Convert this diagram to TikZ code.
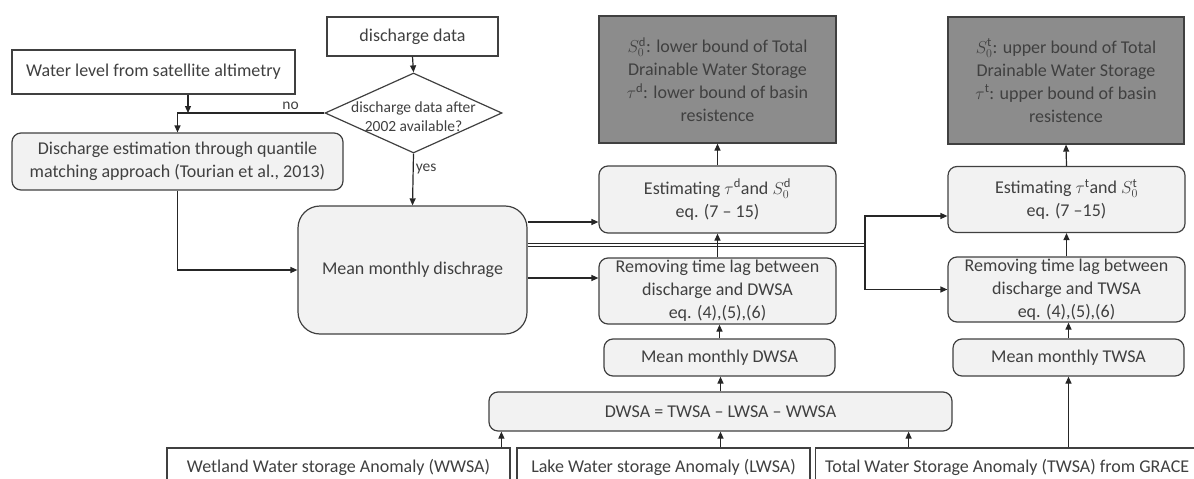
\documentclass[tikz,border=0pt]{standalone}
\usepackage{amsmath}
\usepackage{fontspec}
\setmainfont{Carlito}
\usetikzlibrary{shapes.geometric,arrows.meta}
\definecolor{boxfill}{HTML}{F2F2F2}
\definecolor{darkfill}{HTML}{8C8C8C}
\definecolor{edge}{HTML}{404040}
\begin{document}
\begin{tikzpicture}[x=1pt,y=-1pt,
    every node/.style={font=\fontsize{18}{23}\selectfont, inner sep=0pt, text=edge},
    plain/.style={draw=edge, line width=1.2pt, fill=white},
    rbox/.style={draw=edge, line width=1.2pt, fill=boxfill, rounded corners=9pt, align=center},
    dbox/.style={draw=edge, line width=1.2pt, fill=darkfill, align=center},
    lbl/.style={font=\fontsize{15.5}{19}\selectfont},
    arr/.style={line width=1.2pt, black!85, -{Triangle[length=7pt,width=6pt]}},
    ln/.style={line width=1.2pt, black!85},
    dbl/.style={line width=1pt, black!85, double, double distance=2pt}]
        \useasboundingbox (0,0) rectangle (1194,479);
        \clip (0,0) rectangle (1194,479);
        % inputs on the left
        \node (wl) [plain, minimum width=283pt, minimum height=44pt] at (153.5,72) {Water level from satellite altimetry};
        \node (dd) [plain, minimum width=171pt, minimum height=39pt] at (412.5,36.5) {discharge data};
        \node (dq) [plain, diamond, minimum width=177pt, minimum height=80pt] at (413.5,113) {};
        \node [lbl, align=center] at (413.5,117) {discharge data after\\2002 available?};
        \node (qm) [rbox, minimum width=331pt, minimum height=57pt] at (177.5,161.5) {Discharge estimation through quantile\\matching approach (Tourian et al., 2013)};
        \node (mq) [rbox, rounded corners=22pt, minimum width=229pt, minimum height=128pt] at (412.5,270) {Mean monthly dischrage};
        % d branch
        \node (gd) [dbox, minimum width=237pt, minimum height=127pt] at (717.5,79.5) {$S_0^{\text{d}}$: lower bound of Total\\Drainable Water Storage\\$\tau^{\text{d}}$: lower bound of basin\\resistence};
        \node (ed) [rbox, minimum width=237pt, minimum height=67pt] at (717.5,199.5) {Estimating $\tau^{\text{d}}$and $S_0^{\text{d}}$\\eq. (7 -- 15)};
        \node (rd) [rbox, minimum width=237pt, minimum height=66pt] at (717.5,291) {Removing time lag between\\discharge and DWSA\\eq. (4),(5),(6)};
        \node (md) [rbox, minimum width=231pt, minimum height=37pt] at (719.5,357.5) {Mean monthly DWSA};
        \node (dw) [rbox, minimum width=463pt, minimum height=39pt] at (720.5,411.5) {DWSA = TWSA -- LWSA -- WWSA};
        % t branch
        \node (gt) [dbox, minimum width=236pt, minimum height=127pt] at (1066,80.5) {$S_0^{\text{t}}$: upper bound of Total\\Drainable Water Storage\\$\tau^{\text{t}}$: upper bound of basin\\resistence};
        \node (et) [rbox, minimum width=237pt, minimum height=66pt] at (1066.5,199.5) {Estimating $\tau^{\text{t}}$and $S_0^{\text{t}}$\\eq. (7 --15)};
        \node (rt) [rbox, minimum width=237pt, minimum height=65pt] at (1066.5,289.5) {Removing time lag between\\discharge and TWSA\\eq. (4),(5),(6)};
        \node (mt) [rbox, minimum width=231pt, minimum height=37pt] at (1068.5,357.5) {Mean monthly TWSA};
        % storage anomalies at the bottom
        \node (ww) [plain, minimum width=343pt, minimum height=38pt] at (338.5,467) {Wetland Water storage Anomaly (WWSA)};
        \node (lk) [plain, minimum width=293pt, minimum height=38pt] at (663.5,467) {Lake Water storage Anomaly (LWSA)};
        \node (tw) [plain, anchor=west, minimum width=445pt, minimum height=38pt] at (815,467) {};
        \node [anchor=west] at ([xshift=10pt]tw.west) {Total Water Storage Anomaly (TWSA) from GRACE};
        \coordinate (sp) at (865,245);
        % connectors
        \draw [arr] (dd.south) -- (dq.north);
        \draw [arr] ([xshift=34.5pt]wl.south) -- ([xshift=34.5pt]wl.south |- dq.west);
        \draw [arr] (dq.west) -| node [lbl, pos=0.115, above=3pt] {no} (qm.north);
        \draw [arr] (dq.south) -- node [lbl, pos=0.3, right=2pt] {yes} (mq.north);
        \draw [arr] (qm.south) |- (mq.west);
        \draw [arr] ([yshift=48pt]mq.east) -- ([yshift=48pt]mq.east -| ed.west);
        \draw [arr] ([yshift=-8pt]mq.east) -- ([yshift=-8pt]mq.east -| rd.west);
        \draw [dbl] ([yshift=25pt]mq.east) -- (sp);
        \draw [arr] (sp) |- ([yshift=-16.5pt]et.west);
        \draw [arr] (sp) |- (rt.west);
        \draw [arr] (ed.north) -- (gd.south);
        \draw [arr] (rd.north) -- (ed.south);
        \draw [arr] (md.north) -- (md.north |- rd.south);
        \draw [arr] (dw.north) -- (dw.north |- md.south);
        \draw [arr] (et.north) -- (gt.south);
        \draw [arr] (rt.north) -- (et.south);
        \draw [arr] (mt.north) -- (mt.north |- rt.south);
        \draw [arr] ([xshift=13pt]dw.south west |- ww.north) -- ([xshift=13pt]dw.south west);
        \draw [arr] (dw.south |- lk.north) -- (dw.south);
        \draw [arr] ([xshift=-44pt]dw.south east |- tw.north) -- ([xshift=-44pt]dw.south east);
        \draw [arr] (mt.south |- tw.north) -- (mt.south);
\end{tikzpicture}
\end{document}
